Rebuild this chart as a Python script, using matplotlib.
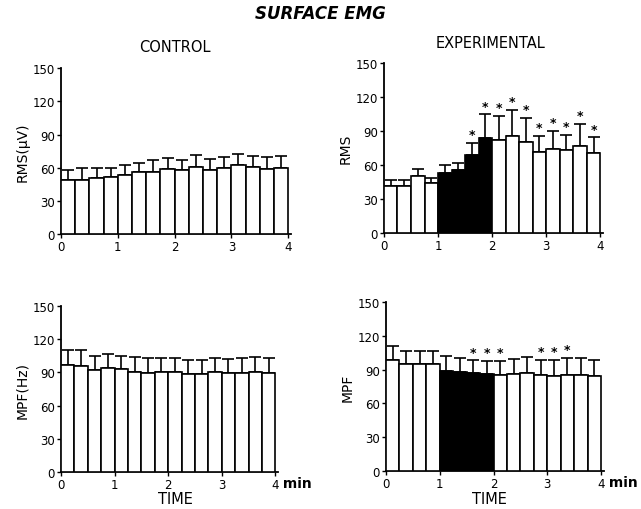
import matplotlib
matplotlib.use("Agg")
import matplotlib.pyplot as plt
import numpy as np

plt.rcParams['font.family'] = ['DejaVu Sans']

# 16 intervals of 15 s over 4 min
time_edges = [i * 0.25 for i in range(16)]

ctrl_rms = [49, 49, 51, 52, 53.5, 56, 56, 59, 57.5, 60.5, 58, 60, 62, 60.5, 59, 59.5]
ctrl_rms_sd = [8.5, 10.5, 8.5, 7.5, 9, 8.5, 11, 10, 9.5, 11, 10, 9.5, 10.5, 10.5, 10.5, 11]

exp_rms = [41.5, 41.5, 50, 44, 53, 56, 69, 84, 82.5, 85.5, 80.5, 71.5, 74.5, 73, 77, 70.5]
exp_rms_sd = [5.5, 5, 6.5, 5, 7.5, 5.5, 10.5, 21, 21, 23.5, 21, 14.5, 15.5, 14, 19.5, 14]
exp_rms_star = [False]*6 + [True]*10

ctrl_mpf = [96.5, 96, 92.5, 94.3, 92.8, 90.7, 89.8, 90.1, 90.1, 88.3, 88.9, 90.1, 89.8, 89.2, 90.1, 89.5]
ctrl_mpf_sd = [14, 14.5, 12, 12.3, 12, 13.5, 13.2, 12.9, 12.9, 12.9, 12.6, 13.2, 12.6, 13.5, 13.5, 13.5]

exp_mpf = [99, 94.7, 94.7, 94.7, 89.3, 88.4, 86.9, 85.8, 85.2, 85.8, 87.2, 84.9, 84, 85.2, 85.2, 84.3]
exp_mpf_sd = [11.7, 11.8, 11.8, 11.8, 12.7, 11.9, 11.3, 11.8, 12.4, 13.3, 14, 13.9, 14.5, 15.1, 15.1, 14.2]
exp_mpf_star = [False]*6 + [True, True, True, False, False, True, True, True, False, False]

exp_black = [False]*4 + [True]*4 + [False]*8

yticks = [0, 30, 60, 90, 120, 150]
xticks = [0, 1, 2, 3, 4]

fig = plt.figure(figsize=(6.41, 5.10), dpi=100)

def panel(rect, vals, sds, ylabel, black=None, stars=None, xlabel=False):
    ax = fig.add_axes(rect)
    colors = ['black' if (black and black[i]) else 'white' for i in range(len(vals))]
    ax.bar(time_edges, vals, width=0.25, align='edge', color=colors,
           edgecolor='black', linewidth=1.2, zorder=3)
    centers = [t + 0.125 for t in time_edges]
    ax.errorbar(centers, vals, yerr=[np.zeros(len(sds)), sds], fmt='none',
                ecolor='black', elinewidth=1.2, capsize=4, capthick=1.2, zorder=2)
    if stars:
        for c, v, s, st in zip(centers, vals, sds, stars):
            if st:
                ax.text(c, v + s + 1.5, '*', ha='center', va='bottom',
                        fontsize=9, fontweight='bold')
    ax.set_xlim(0, 4.05)
    ax.set_ylim(0, 150)
    ax.set_yticks(yticks)
    ax.set_xticks(xticks)
    ax.tick_params(labelsize=8.5, direction='out', length=3, width=1, pad=1.5)
    for s in ['top', 'right']:
        ax.spines[s].set_visible(False)
    for s in ['left', 'bottom']:
        ax.spines[s].set_linewidth(1.3)
    ax.set_ylabel(ylabel, fontsize=10, labelpad=2)
    if xlabel:
        ax.text(1.0, -0.025, ' min', transform=ax.transAxes, ha='left', va='top',
                fontsize=10, fontweight='bold')
    return ax

panel([0.0952, 0.539, 0.3588, 0.3255], ctrl_rms, ctrl_rms_sd, 'RMS(μV)')
panel([0.599, 0.541, 0.3417, 0.333], exp_rms, exp_rms_sd, 'RMS', black=exp_black, stars=exp_rms_star)
panel([0.0952, 0.0725, 0.3385, 0.3255], ctrl_mpf, ctrl_mpf_sd, 'MPF(Hz)', xlabel=True)
panel([0.602, 0.0745, 0.340, 0.331], exp_mpf, exp_mpf_sd, 'MPF', black=exp_black, stars=exp_mpf_star, xlabel=True)

fig.text(0.5, 0.972, 'SURFACE EMG', ha='center', va='center', fontsize=12,
         fontweight='bold', fontstyle='italic')
fig.text(0.273, 0.906, 'CONTROL', ha='center', va='center', fontsize=10.5)
fig.text(0.765, 0.914, 'EXPERIMENTAL', ha='center', va='center', fontsize=10.5)
fig.text(0.273, 0.021, 'TIME', ha='center', va='center', fontsize=10.5)
fig.text(0.764, 0.021, 'TIME', ha='center', va='center', fontsize=10.5)

fig.savefig('out.png', dpi=100)
